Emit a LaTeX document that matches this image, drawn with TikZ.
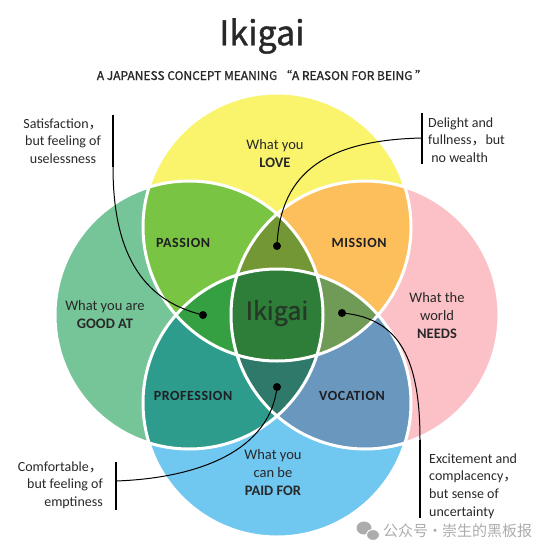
\documentclass[tikz,border=0pt]{standalone}
\usepackage{fontspec}
\setmainfont{Carlito}
\newfontfamily\cjk{Noto Sans CJK SC}
\newfontfamily\cjkheavy[FakeBold=1.2]{Noto Sans CJK SC}
\newfontfamily\capsfont[LetterSpace=4]{Carlito}

\definecolor{love}{RGB}{249,244,108}
\definecolor{goodat}{RGB}{117,197,152}
\definecolor{needs}{RGB}{251,193,198}
\definecolor{paidfor}{RGB}{112,199,240}
\definecolor{passion}{RGB}{122,196,68}
\definecolor{mission}{RGB}{253,191,92}
\definecolor{profession}{RGB}{46,156,140}
\definecolor{vocation}{RGB}{106,151,190}
\definecolor{lensT}{RGB}{114,151,52}
\definecolor{lensL}{RGB}{52,160,66}
\definecolor{lensR}{RGB}{111,155,86}
\definecolor{lensB}{RGB}{46,121,106}
\definecolor{ikigai}{RGB}{46,125,56}
\definecolor{txt}{RGB}{40,40,40}
\definecolor{markgrey}{RGB}{172,172,172}

\tikzset{
  lbl/.style={font=\fontsize{14.5}{18}\selectfont, text=txt, align=center, inner sep=0pt},
  area/.style={font=\capsfont\bfseries\fontsize{14}{17}\selectfont, text={rgb,255:red,30;green,30;blue,35}, inner sep=0pt},
  note/.style={font=\fontsize{14}{17.7}\selectfont, text=txt, inner sep=0pt},
  bar/.style={line width=2pt, black},
  lead/.style={line width=1pt, black},
  pin/.style={circle, fill=black, inner sep=0pt, minimum size=8pt}
}

% the four circles
\def\cLove{(277,227) circle[radius=134pt]}
\def\cGood{(189,315) circle[radius=134pt]}
\def\cWorld{(365,315) circle[radius=134pt]}
\def\cPaid{(277,403) circle[radius=134pt]}

\begin{document}
\begin{tikzpicture}[x=1pt, y=-1pt]
  \useasboundingbox (0,0) rectangle (554,554);

  % single circles
  \fill[love] \cLove;
  \fill[goodat] \cGood;
  \fill[needs] \cWorld;
  \fill[paidfor] \cPaid;

  % pairs
  \begin{scope}
    \clip \cLove;
    \fill[passion] \cGood;
    \fill[mission] \cWorld;
  \end{scope}
  \begin{scope}
    \clip \cPaid;
    \fill[profession] \cGood;
    \fill[vocation] \cWorld;
  \end{scope}

  % triples
  \begin{scope}
    \clip \cLove; \clip \cGood;
    \fill[lensL] \cPaid;
    \fill[lensT] \cWorld;
  \end{scope}
  \begin{scope}
    \clip \cPaid; \clip \cWorld;
    \fill[lensR] \cLove;
    \fill[lensB] \cGood;
  \end{scope}

  % all four
  \begin{scope}
    \clip \cLove; \clip \cGood; \clip \cWorld;
    \fill[ikigai] \cPaid;
  \end{scope}

  \draw[white, line width=3pt] \cLove \cGood \cWorld \cPaid;

  % titles
  \node[inner sep=0pt, text=txt] (title) at (262,36) {\cjkheavy\fontsize{34}{34}\selectfont Ikigai};
  \node[inner sep=0pt, text=txt] (subtitle) at (262,75)
    {\cjkheavy\fontsize{12}{12}\selectfont A JAPANESS CONCEPT MEANING “A REASON FOR BEING ”};

  % circle and area labels
  \node[lbl] (love) at (275,154) {What you\\\textbf{LOVE}};
  \node[lbl] (good) at (105,315) {What you are\\\textbf{GOOD AT}};
  \node[lbl] (world) at (437,316) {What the\\world\\\textbf{NEEDS}};
  \node[lbl] (paid) at (273,473) {What you\\can be\\\textbf{PAID FOR}};
  \node[area] (passion) at (183,243) {PASSION};
  \node[area] (mission) at (359,243) {MISSION};
  \node[area] (profession) at (193,396) {PROFESSION};
  \node[area] (vocation) at (352,396) {VOCATION};
  \node[inner sep=0pt, text={rgb,255:red,36;green,58;blue,38}] (centre) at (277,313)
    {\cjkheavy\fontsize{25}{25}\selectfont Ikigai};

  % dots in the lenses
  \node[pin] (dotT) at (277,246) {};
  \node[pin] (dotL) at (203,315) {};
  \node[pin] (dotR) at (342,313) {};
  \node[pin] (dotB) at (277,387) {};

  % notes
  \node[note, align=center] (useless) at (63,141) {Satisfaction{\cjk ，}\\but feeling of\\uselessness};
  \node[note, align=left, anchor=west] (wealth) at (428,140) {Delight and\\fullness{\cjk ，}but\\\ no wealth};
  \node[note, align=right, anchor=east] (empty) at (103,485) {Comfortable{\cjk ，}\\but feeling of\\emptiness};
  \node[note, align=left, anchor=west] (uncertain) at (429,486) {Excitement and\\complacency{\cjk ，}\\but sense of\\uncertainty};

  \coordinate (barTLa) at (113,115);
  \coordinate (barTLb) at (113,167);
  \coordinate (barTRa) at (422,113);
  \coordinate (barTRb) at (422,164);
  \coordinate (barTRm) at (422,138);
  \coordinate (barBLa) at (116,462);
  \coordinate (barBLb) at (116,510);
  \coordinate (barBLm) at (116,481);
  \coordinate (barBRa) at (420,440);
  \coordinate (barBRb) at (420,518);

  \draw[bar] (barTLa) -- (barTLb);
  \draw[bar] (barTRa) -- (barTRb);
  \draw[bar] (barBLa) -- (barBLb);
  \draw[bar] (barBRa) -- (barBRb);

  \draw[lead] (barTLb) .. controls (113,250) and (140,300) .. (dotL.center);
  \draw[lead] (barTRm) .. controls (330,140) and (280,170) .. (dotT.center);
  \draw[lead] (barBLm) .. controls (200,478) and (270,450) .. (dotB.center);
  \draw[lead] (dotR.center) .. controls (400,318) and (420,360) .. (barBRa);

  % watermark
  \fill[markgrey] (364,528) ellipse[x radius=7.5pt, y radius=6.5pt];
  \fill[markgrey, draw=white, line width=1pt] (373,535) ellipse[x radius=6.5pt, y radius=5.5pt];
  \node[inner sep=0pt, text=markgrey, anchor=west] (wechat) at (383,531)
    {\cjk\fontsize{15}{15}\selectfont 公众号{\kern-0.5pt}·{\kern-0.5pt}崇生的黑板报};
\end{tikzpicture}
\end{document}
